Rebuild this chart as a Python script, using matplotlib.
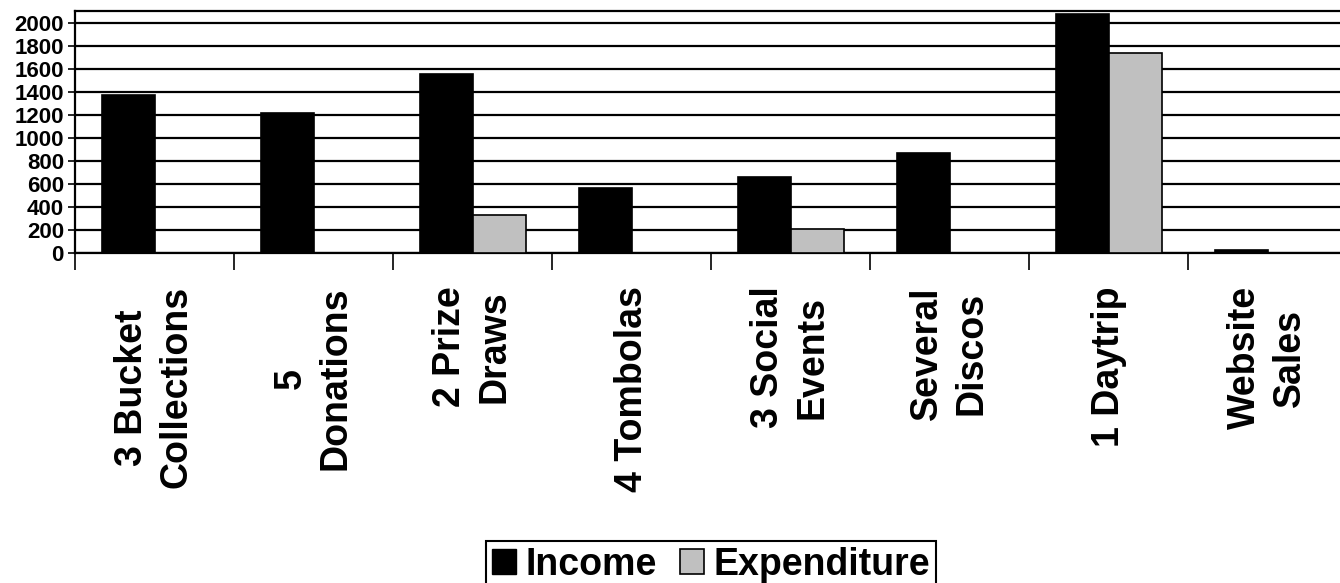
import numpy as np
import matplotlib
matplotlib.use("Agg")
import matplotlib.pyplot as plt
from matplotlib.patches import Patch

categories = ["3 Bucket\nCollections", "5\nDonations", "2 Prize\nDraws", "4 Tombolas",
              "3 Social\nEvents", "Several\nDiscos", "1 Daytrip", "Website\nSales"]
income = [1375, 1215, 1550, 560, 660, 870, 2075, 22]
expenditure = [0, 0, 328, 0, 210, 0, 1738, 0]
y_ticks = [0, 200, 400, 600, 800, 1000, 1200, 1400, 1600, 1800, 2000]

plt.rcParams['font.family'] = ['Liberation Sans', 'DejaVu Sans']
plt.rcParams['font.weight'] = 'bold'

fig = plt.figure(figsize=(13.4, 5.83), dpi=100)
W, H = 1340, 583
left_px, top_px, zero_px, cat_px = 75, 11, 253, 159
ax = fig.add_axes([left_px / W, 1 - zero_px / H, 8 * cat_px / W, (zero_px - top_px) / H])

x = np.arange(len(categories))
bw = 1 / 3
ax.bar(x - bw / 2, income, bw, color="black", edgecolor="black", linewidth=1.2, zorder=3)
ax.bar(x + bw / 2, expenditure, bw, color="#c0c0c0", edgecolor="black", linewidth=1.2, zorder=3)

ax.set_xlim(-0.5, len(categories) - 0.5)
ax.set_ylim(0, 2100)
ax.set_yticks(y_ticks)
ax.set_yticklabels([str(v) for v in y_ticks], fontsize=16, fontweight="bold")
ax.yaxis.grid(True, color="black", linewidth=1.6, zorder=0)
ax.set_axisbelow(True)

ax.set_xticks(np.arange(len(categories) + 1) - 0.5)
ax.set_xticklabels([])
ax.tick_params(axis="x", which="major", length=12, width=1.2, direction="out")
ax.set_xticks(x, minor=True)
ax.set_xticklabels(categories, minor=True, rotation=90, fontsize=27, fontweight="bold",
                   va="top", ha="center", multialignment="center", linespacing=1.3)
ax.tick_params(axis="x", which="minor", length=0, pad=24)
ax.tick_params(axis="y", length=5, width=1.2, direction="out", pad=3)

for s in ["left", "top", "bottom"]:
    ax.spines[s].set_linewidth(1.6)
    ax.spines[s].set_color("black")
ax.spines["right"].set_visible(False)

handles = [Patch(facecolor="black", edgecolor="black", label="Income"),
           Patch(facecolor="#c0c0c0", edgecolor="black", linewidth=1.2, label="Expenditure")]
leg = fig.legend(handles=handles, loc="upper center", bbox_to_anchor=(711 / W, 1 - 541 / H),
                 ncol=2, prop={"weight": "bold", "size": 27},
                 frameon=True, fancybox=False, edgecolor="black", framealpha=1,
                 handlelength=0.65, handleheight=0.65, handletextpad=0.25,
                 columnspacing=0.6, borderpad=0.15, borderaxespad=0)
leg.get_frame().set_linewidth(1.5)

fig.savefig("out.png", dpi=100)
